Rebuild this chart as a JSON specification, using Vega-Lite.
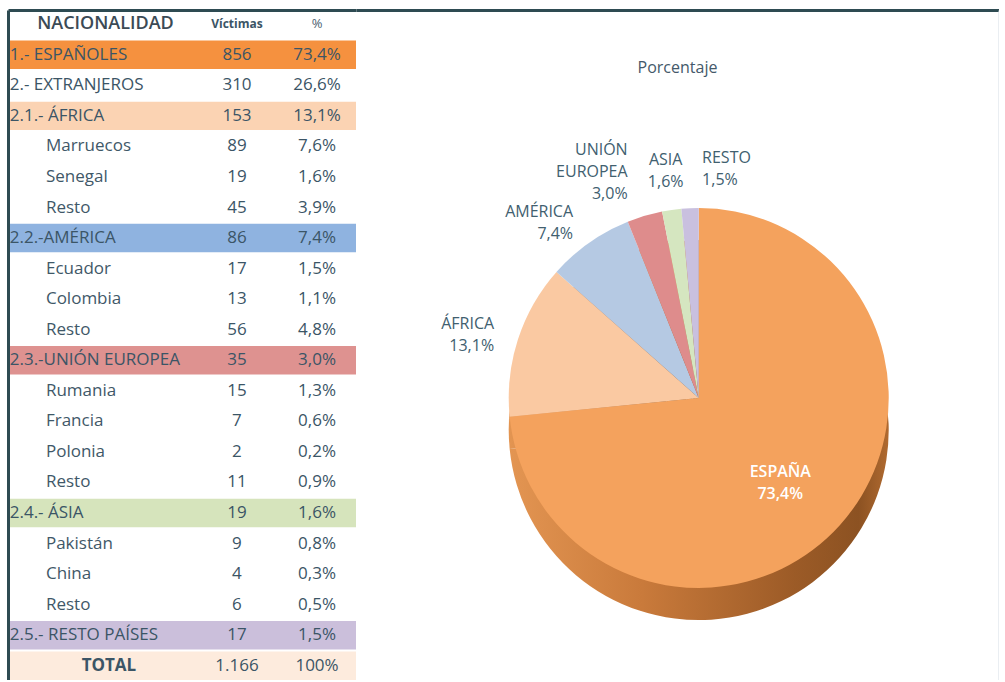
{
  "$schema": "https://vega.github.io/schema/vega-lite/v6.json",
  "padding": {"left": 8, "top": 10, "right": 0, "bottom": 0},
  "background": "white",
  "spacing": 0,
  "resolve": {"scale": {"color": "independent"}},
  "config": {
    "view": {"stroke": null},
    "font": "Open Sans",
    "locale": {"number": {"decimal": ",", "thousands": ".", "grouping": [3], "currency": ["", " €"]}},
    "axis": {"labels": false, "ticks": false, "grid": false, "domainColor": "#2E4B52", "domainWidth": 3}
  },
  "hconcat": [
    {
      "width": 348,
      "height": 670,
      "data": {"values": [
        {"n": 1, "nombre": "1.- ESPAÑOLES", "nivel": 1, "victimas": 856, "pct": 0.734, "grupo": "ESP"},
        {"n": 2, "nombre": "2.- EXTRANJEROS", "nivel": 1, "victimas": 310, "pct": 0.266},
        {"n": 3, "nombre": "2.1.- ÁFRICA", "nivel": 1, "victimas": 153, "pct": 0.131, "grupo": "AFR"},
        {"n": 4, "nombre": "Marruecos", "nivel": 2, "victimas": 89, "pct": 0.076},
        {"n": 5, "nombre": "Senegal", "nivel": 2, "victimas": 19, "pct": 0.016},
        {"n": 6, "nombre": "Resto", "nivel": 2, "victimas": 45, "pct": 0.039},
        {"n": 7, "nombre": "2.2.-AMÉRICA", "nivel": 1, "victimas": 86, "pct": 0.074, "grupo": "AME"},
        {"n": 8, "nombre": "Ecuador", "nivel": 2, "victimas": 17, "pct": 0.015},
        {"n": 9, "nombre": "Colombia", "nivel": 2, "victimas": 13, "pct": 0.011},
        {"n": 10, "nombre": "Resto", "nivel": 2, "victimas": 56, "pct": 0.048},
        {"n": 11, "nombre": "2.3.-UNIÓN EUROPEA", "nivel": 1, "victimas": 35, "pct": 0.030, "grupo": "UE"},
        {"n": 12, "nombre": "Rumania", "nivel": 2, "victimas": 15, "pct": 0.013},
        {"n": 13, "nombre": "Francia", "nivel": 2, "victimas": 7, "pct": 0.006},
        {"n": 14, "nombre": "Polonia", "nivel": 2, "victimas": 2, "pct": 0.002},
        {"n": 15, "nombre": "Resto", "nivel": 2, "victimas": 11, "pct": 0.009},
        {"n": 16, "nombre": "2.4.- ÁSIA", "nivel": 1, "victimas": 19, "pct": 0.016, "grupo": "ASIA"},
        {"n": 17, "nombre": "Pakistán", "nivel": 2, "victimas": 9, "pct": 0.008},
        {"n": 18, "nombre": "China", "nivel": 2, "victimas": 4, "pct": 0.003},
        {"n": 19, "nombre": "Resto", "nivel": 2, "victimas": 6, "pct": 0.005},
        {"n": 20, "nombre": "2.5.- RESTO PAÍSES", "nivel": 1, "victimas": 17, "pct": 0.015, "grupo": "RESTO"},
        {"n": 21, "nombre": "TOTAL", "nivel": 0, "victimas": 1166, "pct": 1.0, "grupo": "TOTAL"}
      ]},
      "encoding": {
        "y": {"field": "n", "type": "ordinal", "scale": {"paddingInner": 0.07, "paddingOuter": 0}, "axis": {"orient": "left", "title": null}}
      },
      "layer": [
        {
          "transform": [{"filter": "isValid(datum.grupo)"}],
          "mark": {"type": "rect"},
          "encoding": {
            "x": {"datum": 0, "type": "quantitative", "scale": {"domain": [0, 100]}, "axis": {"orient": "top", "title": null}},
            "x2": {"datum": 100},
            "color": {"field": "grupo", "type": "nominal", "legend": null,
              "scale": {"domain": ["ESP", "AFR", "AME", "UE", "ASIA", "RESTO", "TOTAL"],
                        "range": ["#F5913F", "#FBD3B3", "#8FB3E0", "#DE9290", "#D6E4BC", "#CBBFDB", "#FDEBDD"]}}
          }
        },
        {
          "data": {"values": [{"n": 0}]},
          "mark": {"type": "text", "align": "center", "baseline": "middle", "fontSize": 18, "fontWeight": 600, "color": "#3B4A55"},
          "encoding": {"x": {"datum": 28, "type": "quantitative"}, "text": {"value": "NACIONALIDAD"}}
        },
        {
          "data": {"values": [{"n": 0}]},
          "mark": {"type": "text", "align": "center", "baseline": "middle", "fontSize": 12, "fontWeight": "bold", "color": "#3B5566"},
          "encoding": {"x": {"datum": 65.8, "type": "quantitative"}, "text": {"value": "Víctimas"}}
        },
        {
          "data": {"values": [{"n": 0}]},
          "mark": {"type": "text", "align": "center", "baseline": "middle", "fontSize": 13, "color": "#4A6070"},
          "encoding": {"x": {"datum": 88.8, "type": "quantitative"}, "text": {"value": "%"}}
        },
        {
          "transform": [{"filter": "datum.nivel === 1"}],
          "mark": {"type": "text", "align": "left", "baseline": "middle", "fontSize": 17, "color": "#3B5566"},
          "encoding": {"x": {"datum": 0.5, "type": "quantitative"}, "text": {"field": "nombre"}}
        },
        {
          "transform": [{"filter": "datum.nivel === 2"}],
          "mark": {"type": "text", "align": "left", "baseline": "middle", "fontSize": 17, "color": "#3F5868"},
          "encoding": {"x": {"datum": 10.9, "type": "quantitative"}, "text": {"field": "nombre"}}
        },
        {
          "transform": [{"filter": "datum.nivel === 0"}],
          "mark": {"type": "text", "align": "center", "baseline": "middle", "fontSize": 17, "fontWeight": "bold", "color": "#3B5566"},
          "encoding": {"x": {"datum": 29, "type": "quantitative"}, "text": {"field": "nombre"}}
        },
        {
          "mark": {"type": "text", "align": "center", "baseline": "middle", "fontSize": 17, "color": "#3B5566"},
          "encoding": {"x": {"datum": 65.8, "type": "quantitative"}, "text": {"field": "victimas", "type": "quantitative", "format": ",d"}}
        },
        {
          "transform": [{"filter": "datum.nivel !== 0"}],
          "mark": {"type": "text", "align": "center", "baseline": "middle", "fontSize": 17, "color": "#3B5566"},
          "encoding": {"x": {"datum": 88.8, "type": "quantitative"}, "text": {"field": "pct", "type": "quantitative", "format": ".1%"}}
        },
        {
          "transform": [{"filter": "datum.nivel === 0"}],
          "mark": {"type": "text", "align": "center", "baseline": "middle", "fontSize": 17, "color": "#3B5566"},
          "encoding": {"x": {"datum": 88.8, "type": "quantitative"}, "text": {"field": "pct", "type": "quantitative", "format": ".0%"}}
        }
      ]
    },
    {
      "width": 643,
      "height": 670,
      "title": {"text": "Porcentaje", "anchor": "middle", "offset": -66, "fontSize": 16, "fontWeight": "normal", "color": "#44596A", "font": "Open Sans"},
      "data": {"values": [
        {"region": "ESPAÑA", "orden": 1, "victimas": 856, "etiqueta": "ESPAÑA\n73,4%"},
        {"region": "ÁFRICA", "orden": 2, "victimas": 153, "etiqueta": "ÁFRICA\n13,1%"},
        {"region": "AMÉRICA", "orden": 3, "victimas": 86, "etiqueta": "AMÉRICA\n7,4%"},
        {"region": "UNIÓN EUROPEA", "orden": 4, "victimas": 35, "etiqueta": "UNIÓN\nEUROPEA\n3,0%"},
        {"region": "ASIA", "orden": 5, "victimas": 19, "etiqueta": "ASIA\n1,6%"},
        {"region": "RESTO", "orden": 6, "victimas": 17, "etiqueta": "RESTO\n1,5%"}
      ]},
      "layer": [
        {
          "mark": {"type": "arc", "outerRadius": 190,
            "color": {"gradient": "linear", "x1": 0, "y1": 0, "x2": 1, "y2": 0,
              "stops": [{"offset": 0, "color": "#E39552"}, {"offset": 0.35, "color": "#C97A3B"}, {"offset": 0.75, "color": "#9C5B27"}, {"offset": 0.92, "color": "#8C5222"}, {"offset": 1, "color": "#B06A30"}]}},
          "encoding": {
            "theta": {"field": "victimas", "type": "quantitative", "stack": true},
            "order": {"field": "orden"},
            "x": {"datum": 53.3, "type": "quantitative", "scale": {"domain": [0, 100]}, "axis": {"orient": "top", "title": null}},
            "y": {"datum": 37.3, "type": "quantitative", "scale": {"domain": [0, 100]}, "axis": {"orient": "right", "title": null, "domainColor": "#D6DEE6", "domainWidth": 2}}
          }
        },
        {
          "mark": {"type": "arc", "outerRadius": 190},
          "encoding": {
            "theta": {"field": "victimas", "type": "quantitative", "stack": true},
            "order": {"field": "orden"},
            "x": {"datum": 53.3, "type": "quantitative"},
            "y": {"datum": 42.1, "type": "quantitative"},
            "color": {"field": "region", "type": "nominal", "legend": null,
              "scale": {"domain": ["ESPAÑA", "ÁFRICA", "AMÉRICA", "UNIÓN EUROPEA", "ASIA", "RESTO"],
                        "range": ["#F4A25D", "#FAC9A2", "#B5C9E3", "#DE8C8C", "#D5E6C0", "#C9C0DF"]}}
          }
        },
        {
          "mark": {"type": "text", "radius": 110, "align": "center", "baseline": "middle", "lineBreak": "\n", "lineHeight": 22, "fontSize": 16, "fontWeight": 600, "color": "white"},
          "encoding": {
            "theta": {"field": "victimas", "type": "quantitative", "stack": true},
            "order": {"field": "orden"},
            "x": {"datum": 53.3, "type": "quantitative"},
            "y": {"datum": 42.1, "type": "quantitative"},
            "text": {"condition": {"test": "datum.region === 'ESPAÑA'", "field": "etiqueta"}, "value": ""}
          }
        },
        {
          "mark": {"type": "text", "radius": 215, "align": "right", "baseline": "bottom", "lineBreak": "\n", "lineHeight": 22, "fontSize": 16, "color": "#41606F"},
          "encoding": {
            "theta": {"field": "victimas", "type": "quantitative", "stack": true},
            "order": {"field": "orden"},
            "x": {"datum": 53.3, "type": "quantitative"},
            "y": {"datum": 42.1, "type": "quantitative"},
            "text": {"condition": {"test": "datum.region === 'ÁFRICA'", "field": "etiqueta"}, "value": ""}
          }
        },
        {
          "mark": {"type": "text", "radius": 218, "align": "right", "baseline": "bottom", "lineBreak": "\n", "lineHeight": 22, "fontSize": 16, "color": "#41606F"},
          "encoding": {
            "theta": {"field": "victimas", "type": "quantitative", "stack": true},
            "order": {"field": "orden"},
            "x": {"datum": 53.3, "type": "quantitative"},
            "y": {"datum": 42.1, "type": "quantitative"},
            "text": {"condition": {"test": "datum.region === 'AMÉRICA'", "field": "etiqueta"}, "value": ""}
          }
        },
        {
          "mark": {"type": "text", "radius": 250, "align": "right", "baseline": "bottom", "lineBreak": "\n", "lineHeight": 22, "fontSize": 16, "color": "#41606F"},
          "encoding": {
            "theta": {"field": "victimas", "type": "quantitative", "stack": true},
            "order": {"field": "orden"},
            "x": {"datum": 53.3, "type": "quantitative"},
            "y": {"datum": 42.1, "type": "quantitative"},
            "text": {"condition": {"test": "datum.region === 'UNIÓN EUROPEA'", "field": "etiqueta"}, "value": ""}
          }
        },
        {
          "mark": {"type": "text", "radius": 232, "align": "center", "baseline": "bottom", "lineBreak": "\n", "lineHeight": 22, "fontSize": 16, "color": "#41606F"},
          "encoding": {
            "theta": {"field": "victimas", "type": "quantitative", "stack": true},
            "order": {"field": "orden"},
            "x": {"datum": 53.3, "type": "quantitative"},
            "y": {"datum": 42.1, "type": "quantitative"},
            "text": {"condition": {"test": "datum.region === 'ASIA'", "field": "etiqueta"}, "value": ""}
          }
        },
        {
          "mark": {"type": "text", "radius": 232, "align": "left", "baseline": "bottom", "dx": 14, "lineBreak": "\n", "lineHeight": 22, "fontSize": 16, "color": "#41606F"},
          "encoding": {
            "theta": {"field": "victimas", "type": "quantitative", "stack": true},
            "order": {"field": "orden"},
            "x": {"datum": 53.3, "type": "quantitative"},
            "y": {"datum": 42.1, "type": "quantitative"},
            "text": {"condition": {"test": "datum.region === 'RESTO'", "field": "etiqueta"}, "value": ""}
          }
        }
      ]
    }
  ]
}
